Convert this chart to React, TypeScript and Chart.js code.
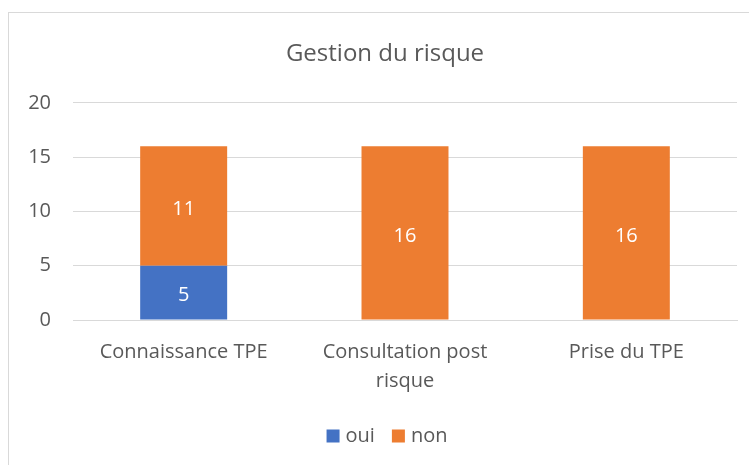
import React, { useEffect, useRef } from "react";
import { Chart, registerables } from "chart.js";

Chart.register(...registerables);

const categories: (string | string[])[] = ["Connaissance TPE", ["Consultation post", "risque"], "Prise du TPE"];
const ouiValues = [5, 0, 0];
const nonValues = [11, 16, 16];
const yTicks = [0, 5, 10, 15, 20];
const titleText = "Gestion du risque";

const FONT = "'Open Sans', sans-serif";
const TEXT = "#595959";
const CANVAS_W = 780;

const frame = {
  id: "frame",
  beforeDraw(chart: any) {
    const ctx = chart.ctx;
    ctx.save();
    ctx.fillStyle = "#ffffff";
    ctx.fillRect(0, 0, chart.width, chart.height);
    ctx.strokeStyle = "#d9d9d9";
    ctx.lineWidth = 1;
    ctx.strokeRect(8.5, 12.5, 1000, 1000);
    ctx.restore();
  },
};

const valueLabels = {
  id: "valueLabels",
  afterDatasetsDraw(chart: any) {
    const ctx = chart.ctx;
    ctx.save();
    ctx.fillStyle = "#ffffff";
    ctx.font = `20px ${FONT}`;
    ctx.textAlign = "center";
    ctx.textBaseline = "middle";
    chart.data.datasets.forEach((ds: any, i: number) => {
      const meta = chart.getDatasetMeta(i);
      meta.data.forEach((bar: any, j: number) => {
        const v = ds.data[j];
        if (!v) return;
        const y = (bar.y + bar.base) / 2;
        ctx.fillText(String(v), bar.x, y + 3);
      });
    });
    ctx.restore();
  },
};

const customLegend = {
  id: "customLegend",
  afterDraw(chart: any) {
    const ctx = chart.ctx;
    ctx.save();
    ctx.font = `20px ${FONT}`;
    ctx.textBaseline = "middle";
    const box = 13;
    const gap = 6;
    const itemGap = 17;
    const items = chart.data.datasets.map((ds: any) => ({
      label: ds.label,
      color: ds.backgroundColor,
      w: box + gap + ctx.measureText(ds.label).width,
    }));
    const total = items.reduce((s: number, it: any) => s + it.w, 0) + itemGap * (items.length - 1);
    const centerX = (chart.titleBlock.left + chart.titleBlock.right) / 2;
    let x = centerX - total / 2 + 2;
    const cy = 436;
    items.forEach((it: any) => {
      ctx.fillStyle = it.color;
      ctx.fillRect(x, cy - box / 2, box, box);
      ctx.fillStyle = TEXT;
      ctx.fillText(it.label, x + box + gap, cy);
      x += it.w + itemGap;
    });
    ctx.restore();
  },
};

export default function App() {
  const ref = useRef<HTMLCanvasElement>(null);
  useEffect(() => {
    const chart = new Chart(ref.current!, {
      type: "bar",
      data: {
        labels: categories,
        datasets: [
          { label: "oui", data: ouiValues, backgroundColor: "#4472C4" },
          { label: "non", data: nonValues, backgroundColor: "#ED7D31" },
        ],
      },
      options: {
        animation: false,
        responsive: false,
        devicePixelRatio: 1,
        layout: { padding: { left: 0, right: 10, top: 0, bottom: 58 } },
        datasets: { bar: { categoryPercentage: 1, barPercentage: 0.393 } },
        plugins: {
          title: {
            display: true,
            text: titleText,
            color: TEXT,
            font: { family: FONT, size: 24, weight: "normal" },
            padding: { top: 40, bottom: 34 },
          },
          legend: { display: false },
          tooltip: { enabled: false },
        },
        scales: {
          x: {
            stacked: true,
            grid: { display: false, drawTicks: false },
            border: { display: true, color: "#d9d9d9" },
            ticks: {
              color: TEXT,
              font: { family: FONT, size: 20, lineHeight: 1.45 },
              padding: 18,
              maxRotation: 0,
              autoSkip: false,
            },
            afterFit(scale: any) {
              scale.height = 87;
            },
          },
          y: {
            stacked: true,
            min: 0,
            max: 20,
            afterBuildTicks(scale: any) {
              scale.ticks = yTicks.map((v) => ({ value: v }));
            },
            grid: { color: "#d9d9d9", drawTicks: false },
            border: { display: false },
            ticks: {
              color: TEXT,
              font: { family: FONT, size: 20 },
              padding: 22,
            },
            afterFit(scale: any) {
              scale.width = 73;
            },
          },
          yRight: {
            position: "right",
            display: true,
            min: 0,
            max: 20,
            grid: { display: false, drawTicks: false },
            border: { display: false },
            ticks: { display: false },
            afterFit(scale: any) {
              scale.width = CANVAS_W - 10 - 737;
            },
          },
        },
      },
      plugins: [frame, valueLabels, customLegend],
    } as any);
    return () => chart.destroy();
  }, []);
  return (
    <div style={{ position: "fixed", left: 0, top: 0, width: 749, height: 465, overflow: "hidden" }}>
      <canvas ref={ref} width={CANVAS_W} height={465} style={{ display: "block" }} />
    </div>
  );
}
